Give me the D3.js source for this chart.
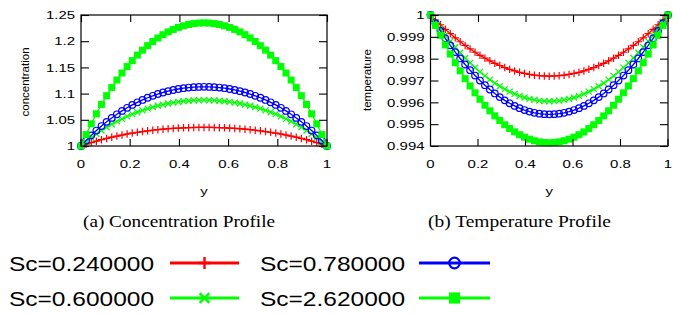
<!DOCTYPE html>
<html><head><meta charset="utf-8">
<script src="https://cdn.jsdelivr.net/npm/d3@7"></script>
<style>body{margin:0;background:#fff}svg{display:block}</style>
</head><body>
<script>
// ---------- data ----------
const yGrid = [0,0.0208,0.0417,0.0625,0.0833,0.1042,0.125,0.1458,0.1667,0.1875,0.2083,0.2292,0.25,0.2708,0.2917,0.3125,0.3333,0.3542,0.375,0.3958,0.4167,0.4375,0.4583,0.4792,0.5,0.5208,0.5417,0.5625,0.5833,0.6042,0.625,0.6458,0.6667,0.6875,0.7083,0.7292,0.75,0.7708,0.7917,0.8125,0.8333,0.8542,0.875,0.8958,0.9167,0.9375,0.9583,0.9792,1];

const seriesNames = ["Sc=0.240000","Sc=0.600000","Sc=0.780000","Sc=2.620000"];
const seriesColors = ["#ff0000","#00ff00","#0000ff","#00ff00"];
const seriesMarkers = ["plus","cross","circle","square"];

const concSc024 = [1.0000,1.0033,1.0064,1.0093,1.0120,1.0145,1.0168,1.0190,1.0210,1.0229,1.0246,1.0262,1.0276,1.0289,1.0301,1.0312,1.0321,1.0329,1.0336,1.0342,1.0347,1.0350,1.0353,1.0354,1.0355,1.0354,1.0353,1.0350,1.0347,1.0342,1.0336,1.0329,1.0321,1.0312,1.0301,1.0289,1.0276,1.0262,1.0246,1.0229,1.0210,1.0190,1.0168,1.0145,1.0120,1.0093,1.0064,1.0033,1.0000];
const concSc060 = [1.0000,1.0081,1.0157,1.0229,1.0295,1.0357,1.0415,1.0469,1.0519,1.0564,1.0607,1.0645,1.0681,1.0713,1.0742,1.0768,1.0791,1.0811,1.0828,1.0842,1.0854,1.0863,1.0870,1.0874,1.0875,1.0874,1.0870,1.0863,1.0854,1.0842,1.0828,1.0811,1.0791,1.0768,1.0742,1.0713,1.0681,1.0645,1.0607,1.0564,1.0519,1.0469,1.0415,1.0357,1.0295,1.0229,1.0157,1.0081,1.0000];
const concSc078 = [1.0000,1.0105,1.0203,1.0295,1.0381,1.0461,1.0536,1.0605,1.0670,1.0729,1.0784,1.0834,1.0879,1.0921,1.0958,1.0992,1.1021,1.1047,1.1069,1.1088,1.1103,1.1115,1.1123,1.1128,1.1130,1.1128,1.1123,1.1115,1.1103,1.1088,1.1069,1.1047,1.1021,1.0992,1.0958,1.0921,1.0879,1.0834,1.0784,1.0729,1.0670,1.0605,1.0536,1.0461,1.0381,1.0295,1.0203,1.0105,1.0000];
const concSc262 = [1.0000,1.0218,1.0423,1.0614,1.0793,1.0960,1.1115,1.1259,1.1393,1.1516,1.1629,1.1734,1.1829,1.1915,1.1993,1.2062,1.2124,1.2178,1.2224,1.2263,1.2294,1.2319,1.2336,1.2346,1.2350,1.2346,1.2336,1.2319,1.2294,1.2263,1.2224,1.2178,1.2124,1.2062,1.1993,1.1915,1.1829,1.1734,1.1629,1.1516,1.1393,1.1259,1.1115,1.0960,1.0793,1.0614,1.0423,1.0218,1.0000];

const tempSc024 = [1.000000,0.999772,0.999553,0.999344,0.999144,0.998955,0.998775,0.998605,0.998444,0.998294,0.998153,0.998022,0.997900,0.997788,0.997686,0.997594,0.997511,0.997438,0.997375,0.997322,0.997278,0.997244,0.997219,0.997205,0.997200,0.997205,0.997219,0.997244,0.997278,0.997322,0.997375,0.997438,0.997511,0.997594,0.997686,0.997788,0.997900,0.998022,0.998153,0.998294,0.998444,0.998605,0.998775,0.998955,0.999144,0.999344,0.999553,0.999772,1.000000];
const tempSc060 = [1.000000,0.999678,0.999369,0.999074,0.998793,0.998525,0.998272,0.998032,0.997805,0.997593,0.997394,0.997209,0.997037,0.996880,0.996736,0.996605,0.996489,0.996386,0.996297,0.996221,0.996160,0.996112,0.996077,0.996057,0.996050,0.996057,0.996077,0.996112,0.996160,0.996221,0.996297,0.996386,0.996489,0.996605,0.996736,0.996880,0.997037,0.997209,0.997394,0.997593,0.997805,0.998032,0.998272,0.998525,0.998793,0.999074,0.999369,0.999678,1.000000];
const tempSc078 = [1.000000,0.999629,0.999273,0.998933,0.998610,0.998301,0.998009,0.997733,0.997472,0.997227,0.996998,0.996785,0.996587,0.996406,0.996240,0.996090,0.995956,0.995837,0.995734,0.995647,0.995576,0.995521,0.995481,0.995458,0.995450,0.995458,0.995481,0.995521,0.995576,0.995647,0.995734,0.995837,0.995956,0.996090,0.996240,0.996406,0.996587,0.996785,0.996998,0.997227,0.997472,0.997733,0.998009,0.998301,0.998610,0.998933,0.999273,0.999629,1.000000];
const tempSc262 = [1.000000,0.999523,0.999066,0.998629,0.998212,0.997816,0.997441,0.997085,0.996750,0.996435,0.996141,0.995866,0.995612,0.995379,0.995166,0.994973,0.994800,0.994648,0.994516,0.994404,0.994313,0.994241,0.994190,0.994160,0.994150,0.994160,0.994190,0.994241,0.994313,0.994404,0.994516,0.994648,0.994800,0.994973,0.995166,0.995379,0.995612,0.995866,0.996141,0.996435,0.996750,0.997085,0.997441,0.997816,0.998212,0.998629,0.999066,0.999523,1.000000];

const xTickValues = [0,0.2,0.4,0.6,0.8,1];
const xTickLabels = ["0","0.2","0.4","0.6","0.8","1"];
const concTickValues = [1,1.05,1.1,1.15,1.2,1.25];
const concTickLabels = ["1","1.05","1.1","1.15","1.2","1.25"];
const tempTickValues = [0.994,0.995,0.996,0.997,0.998,0.999,1];
const tempTickLabels = ["0.994","0.995","0.996","0.997","0.998","0.999","1"];

// ---------- drawing ----------
const W = 682, H = 316;
const svg = d3.select("body").append("svg").attr("width", W).attr("height", H);
const SANS = "'Liberation Sans', Arial, Helvetica, sans-serif";
const SERIF = "'Liberation Serif', 'Times New Roman', serif";
const STRETCH = 1.3;

function markerPath(type, s) {
  const h = s / 2;
  if (type === "plus") return `M${-h},0H${h}M0,${-h}V${h}`;
  if (type === "cross") return `M${-h},${-h}L${h},${h}M${-h},${h}L${h},${-h}`;
  return "";
}

function drawMarker(g, type, color, x, y, big) {
  const k = big ? 1.6 : 1;
  if (type === "circle") {
    g.append("circle").attr("cx", x).attr("cy", y).attr("r", 3.3 * k)
      .attr("fill", "none").attr("stroke", color).attr("stroke-width", big ? 2.2 : 1.2);
  } else if (type === "square") {
    const s = 7 * k;
    g.append("rect").attr("x", x - s / 2).attr("y", y - s / 2).attr("width", s).attr("height", s)
      .attr("fill", color);
  } else {
    const s = (type === "plus" ? 7.5 : 6) * k;
    g.append("path").attr("transform", `translate(${x},${y})`).attr("d", markerPath(type, s))
      .attr("stroke", color).attr("stroke-width", big ? 2.4 : 1.2).attr("fill", "none");
  }
}

function panel(cfg) {
  const g = svg.append("g");
  const x = d3.scaleLinear().domain([0, 1]).range([cfg.x0, cfg.x1]);
  const y = d3.scaleLinear().domain(cfg.yDomain).range([cfg.yb, cfg.yt]);

  // series
  cfg.series.forEach((vals, si) => {
    const color = seriesColors[si];
    const line = d3.line().x((d, i) => x(yGrid[i])).y(d => y(d));
    g.append("path").datum(vals).attr("d", line).attr("fill", "none")
      .attr("stroke", color).attr("stroke-width", 1.3);
    const mg = g.append("g");
    vals.forEach((v, i) => drawMarker(mg, seriesMarkers[si], color, x(yGrid[i]), y(v), false));
  });

  // frame
  g.append("rect").attr("x", cfg.x0).attr("y", cfg.yt).attr("width", cfg.x1 - cfg.x0)
    .attr("height", cfg.yb - cfg.yt).attr("fill", "none").attr("stroke", "#000").attr("stroke-width", 1.2);

  const fixText = sel => sel.selectAll("text").attr("font-family", SANS).attr("font-size", 11.5).attr("fill", "#000");

  // left axis
  const ax = g.append("g").attr("transform", `translate(${cfg.x0},0)`)
    .call(d3.axisLeft(y).tickValues(cfg.yTicks).tickFormat((d, i) => cfg.yLabels[i]).tickSize(-8).tickPadding(6));
  ax.select(".domain").remove();
  fixText(ax);
  ax.selectAll("text").attr("x", -6 / STRETCH).attr("transform", `scale(${STRETCH},1)`);
  // right mirror
  const ar = g.append("g").attr("transform", `translate(${cfg.x1},0)`)
    .call(d3.axisRight(y).tickValues(cfg.yTicks).tickFormat("").tickSize(-8));
  ar.select(".domain").remove();
  // bottom axis
  const ab = g.append("g").attr("transform", `translate(0,${cfg.yb})`)
    .call(d3.axisBottom(x).tickValues(xTickValues).tickFormat((d, i) => xTickLabels[i]).tickSize(-7).tickPadding(14));
  ab.select(".domain").remove();
  fixText(ab);
  ab.selectAll("text").each(function () {
    const t = d3.select(this);
    t.attr("transform", `scale(${STRETCH},1)`);
  });
  ab.selectAll(".tick").each(function (d) {
    const t = d3.select(this);
    const tx = x(d);
    t.attr("transform", `translate(${tx},0)`);
  });
  // top mirror
  const at = g.append("g").attr("transform", `translate(0,${cfg.yt})`)
    .call(d3.axisTop(x).tickValues(xTickValues).tickFormat("").tickSize(-7));
  at.select(".domain").remove();
  g.selectAll(".tick line").attr("stroke", "#000").attr("stroke-width", 1.1);

  // axis titles
  g.append("text").attr("transform", `translate(${cfg.ytx},${cfg.yty}) rotate(-90)`)
    .attr("text-anchor", "middle").attr("font-family", SANS).attr("font-size", 11.5)
    .attr("dy", "0.35em").text(cfg.yTitle);
  g.append("text").attr("transform", `translate(${(cfg.x0 + cfg.x1) / 2},191) scale(${STRETCH},1)`)
    .attr("text-anchor", "middle").attr("font-family", SANS).attr("font-size", 11.5)
    .attr("dy", "0.35em").text("y");
  // caption
  g.append("text").attr("x", cfg.capX).attr("y", 227).attr("font-family", SERIF).attr("font-size", 16)
    .attr("textLength", cfg.capW).attr("lengthAdjust", "spacingAndGlyphs").text(cfg.caption);
}

panel({
  x0: 81, x1: 327, yt: 15, yb: 146, yDomain: [1, 1.25],
  yTicks: concTickValues, yLabels: concTickLabels,
  series: [concSc024, concSc060, concSc078, concSc262],
  yTitle: "concentration", ytx: 25, yty: 82,
  caption: "(a) Concentration Profile", capX: 83, capW: 192
});
panel({
  x0: 430.5, x1: 668, yt: 15, yb: 146, yDomain: [0.994, 1],
  yTicks: tempTickValues, yLabels: tempTickLabels,
  series: [tempSc024, tempSc060, tempSc078, tempSc262],
  yTitle: "temperature", ytx: 367, yty: 80,
  caption: "(b) Temperature Profile", capX: 428, capW: 183
});

// legend
const legendPos = [
  { tx: 9, ty: 271, lx0: 170, lx1: 239, ly: 263 },
  { tx: 9, ty: 306, lx0: 170, lx1: 239, ly: 298 },
  { tx: 260, ty: 271, lx0: 419, lx1: 490, ly: 263 },
  { tx: 260, ty: 306, lx0: 419, lx1: 490, ly: 298 }
];
const lg = svg.append("g");
seriesNames.forEach((name, i) => {
  const p = legendPos[i];
  lg.append("text").attr("x", p.tx).attr("y", p.ty).attr("font-family", SANS).attr("font-size", 21)
    .attr("textLength", 145).attr("lengthAdjust", "spacingAndGlyphs").text(name);
  lg.append("line").attr("x1", p.lx0).attr("x2", p.lx1).attr("y1", p.ly).attr("y2", p.ly)
    .attr("stroke", seriesColors[i]).attr("stroke-width", 3);
  drawMarker(lg, seriesMarkers[i], seriesColors[i], (p.lx0 + p.lx1) / 2, p.ly, true);
});
</script>
</body></html>
